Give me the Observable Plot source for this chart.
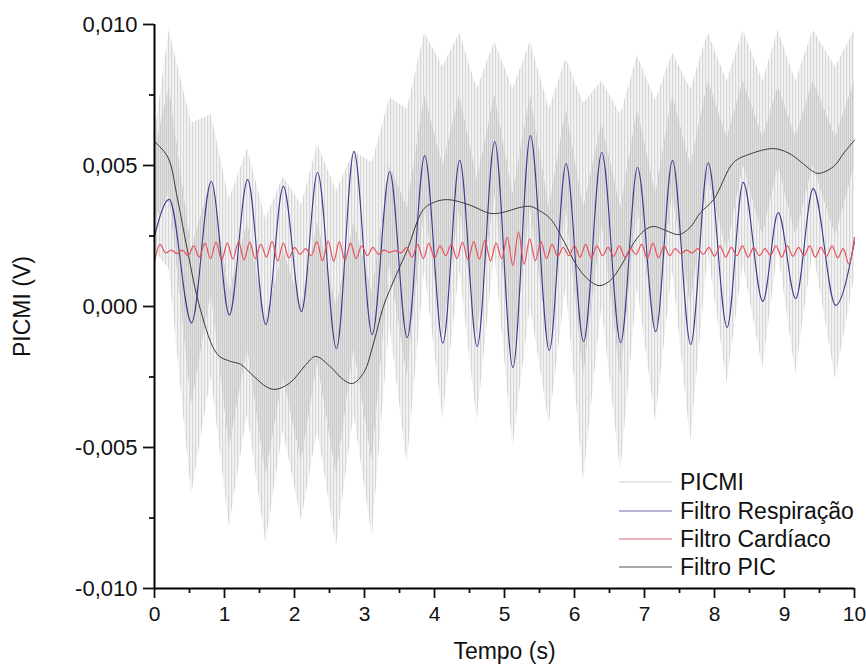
<!DOCTYPE html>
<html>
<head>
<meta charset="utf-8">
<script src="https://cdn.jsdelivr.net/npm/d3@7"></script>
<script src="https://cdn.jsdelivr.net/npm/@observablehq/plot@0.6"></script>
<style>
  html, body { margin: 0; padding: 0; background: #fff; }
  #wrap { position: relative; width: 866px; height: 672px; font-family: "Liberation Sans", Arial, sans-serif; }
  #legend { position: absolute; left: 0; top: 0; width: 866px; height: 672px; pointer-events: none; }
</style>
</head>
<body>
<div id="wrap"></div>
<script>
// ---- Data (values in mV; axis shows volts) ----
const xTicks = [0, 1, 2, 3, 4, 5, 6, 7, 8, 9, 10];
const xMinor = [0.5, 1.5, 2.5, 3.5, 4.5, 5.5, 6.5, 7.5, 8.5, 9.5];
const yTicks = [-10, -5, 0, 5, 10];
const yMinor = [-7.5, -2.5, 2.5, 7.5];

const seriesNames = ["PICMI", "Filtro Respiração", "Filtro Cardíaco", "Filtro PIC"];

// Filtro Respiração: extrema
const respT = [0, 0.21, 0.53, 0.81, 1.07, 1.33, 1.59, 1.84, 2.10, 2.33, 2.60, 2.85, 3.11, 3.36, 3.61, 3.86, 4.12, 4.36, 4.61, 4.86,
               5.12, 5.37, 5.64, 5.88, 6.13, 6.39, 6.66, 6.90, 7.16, 7.40, 7.66, 7.91, 8.18, 8.41, 8.69, 8.91, 9.16, 9.41, 9.73, 10];
const respV = [2.5, 3.8, -0.58, 4.43, -0.30, 4.50, -0.64, 4.26, -0.18, 4.75, -1.50, 5.50, -1.00, 4.78, -1.10, 5.35, -1.30, 5.18, -1.42, 5.85,
               -2.16, 6.06, -1.56, 5.07, -1.24, 5.46, -1.28, 4.93, -0.89, 5.18, -1.35, 5.10, -0.74, 4.40, 0.18, 3.33, 0.28, 4.18, 0.04, 2.3];

// Filtro PIC
const picT = [0, 0.19, 0.33, 0.47, 0.66, 0.90, 1.09, 1.23, 1.42, 1.60, 1.73, 1.94, 2.15, 2.30, 2.51, 2.70, 2.83, 2.99, 3.13, 3.27,
              3.45, 3.61, 3.84, 4.00, 4.19, 4.50, 4.80, 5.00, 5.20, 5.37, 5.50, 5.66, 5.85, 6.04, 6.20, 6.35, 6.50, 6.66, 6.85, 7.00,
              7.13, 7.30, 7.49, 7.65, 7.80, 7.99, 8.27, 8.50, 8.84, 9.05, 9.23, 9.40, 9.49, 9.70, 9.85, 10];
const picV = [5.85, 5.3, 3.8, 2.0, -0.15, -1.7, -1.95, -2.05, -2.48, -2.85, -2.94, -2.7, -2.1, -1.77, -2.13, -2.6, -2.73, -2.34, -1.3, 0.0,
              1.1, 2.0, 3.44, 3.7, 3.79, 3.6, 3.3, 3.35, 3.5, 3.55, 3.4, 3.1, 2.3, 1.42, 0.95, 0.74, 0.9, 1.42, 2.27, 2.7,
              2.84, 2.7, 2.55, 2.8, 3.33, 3.8, 5.1, 5.4, 5.6, 5.45, 5.14, 4.8, 4.72, 4.96, 5.45, 5.9];

// Filtro Cardíaco: samples every 0.08 s
const cardV = [1.60, 2.20, 1.90, 2.00, 1.88, 2.00, 1.80, 2.15, 1.75, 2.25, 1.70, 2.28, 1.65, 2.25, 1.68, 2.30, 1.65, 2.28, 1.70, 2.20,
               1.75, 2.30, 1.62, 2.25, 1.72, 2.10, 1.85, 2.05, 1.80, 2.30, 1.62, 2.32, 1.60, 2.30, 1.65, 2.25, 1.70, 2.15, 1.80, 2.10,
               1.85, 2.00, 1.92, 1.98, 1.90, 2.10, 1.75, 2.20, 1.70, 2.25, 1.72, 2.15, 1.80, 2.20, 1.70, 2.28, 1.65, 2.30, 1.68, 2.35,
               1.62, 2.25, 1.70, 2.45, 1.45, 2.65, 1.50, 2.40, 1.62, 2.30, 1.70, 2.20, 1.78, 2.10, 1.80, 2.15, 1.75, 2.20, 1.72, 2.15,
               1.80, 2.10, 1.78, 2.15, 1.75, 2.05, 1.85, 2.20, 1.70, 2.25, 1.72, 2.15, 1.80, 2.05, 1.88, 2.00, 1.90, 2.05, 1.85, 2.10,
               1.78, 2.15, 1.75, 2.10, 1.80, 2.15, 1.75, 2.10, 1.80, 2.05, 1.82, 2.15, 1.75, 2.15, 1.78, 2.10, 1.80, 2.15, 1.75, 2.10,
               1.78, 2.15, 1.72, 2.05, 1.50, 2.45];
const cardT = cardV.map((_, i) => i * 0.08);

// PICMI raw signal: envelope of the spikes (top/bottom) and the denser core band
const grayT   = [0, 0.21, 0.53, 0.81, 1.07, 1.33, 1.59, 1.84, 2.10, 2.33, 2.60, 2.85, 3.11, 3.36, 3.61, 3.86, 4.12, 4.36, 4.61, 4.86,
                 5.12, 5.37, 5.64, 5.88, 6.13, 6.39, 6.66, 6.90, 7.16, 7.40, 7.66, 7.91, 8.18, 8.41, 8.69, 8.91, 9.16, 9.41, 9.73, 10];
const grayTop = [6.0, 9.8, 6.5, 6.8, 3.8, 5.6, 3.1, 4.6, 3.6, 5.75, 4.1, 5.5, 5.1, 7.4, 7.0, 9.7, 8.5, 9.7, 7.7, 9.4,
                 7.7, 9.4, 7.0, 8.8, 7.2, 8.0, 6.8, 8.9, 7.3, 9.0, 7.7, 9.7, 8.0, 9.8, 8.0, 9.8, 8.0, 9.8, 8.5, 9.8];
const grayBot = [2.0, 1.3, -6.7, -2.5, -7.8, -3.8, -8.4, -4.4, -7.6, -4.4, -8.5, -3.8, -8.2, -0.6, -5.6, 1.3, -4.0, 1.3, -4.1, 1.95,
                 -5.0, 0.0, -4.2, 0.7, -6.2, 0.0, -5.9, 0.7, -4.1, 1.3, -4.8, 1.9, -2.7, 1.5, -2.2, 2.0, -2.4, 2.0, -2.6, 1.0];
const coreHi  = [5.5, 7.8, 2.0, 4.5, 0.5, 3.0, -0.5, 2.0, 0.0, 3.0, 0.0, 3.0, 0.5, 5.0, 3.5, 7.5, 5.0, 7.5, 4.5, 7.5,
                 4.0, 7.5, 3.5, 7.0, 3.5, 6.5, 3.5, 7.0, 4.0, 7.5, 5.0, 8.0, 6.0, 8.0, 6.0, 7.8, 6.0, 8.0, 6.0, 8.0];
const coreLo  = [3.0, 4.0, -3.5, 0.5, -5.0, -1.5, -6.0, -2.5, -5.5, -2.0, -6.0, -1.5, -5.5, 1.5, -2.5, 3.5, -1.0, 3.5, -1.0, 4.0,
                 -2.0, 3.5, -1.5, 3.5, -2.5, 3.0, -2.5, 3.5, -1.0, 4.0, 0.0, 4.5, 2.0, 5.0, 2.5, 5.0, 2.5, 5.0, 2.5, 5.0];

const colors = {resp: "#3b3b90", card: "#e8505c", pic: "#3a3a3a"};

const fmtY = d => (d / 1000).toFixed(3).replace(".", ",");

const chart = Plot.plot({
  width: 866,
  height: 672,
  marginLeft: 154,
  marginRight: 12,
  marginTop: 24,
  marginBottom: 84,
  style: {fontFamily: "'Liberation Sans', Arial, sans-serif", fontSize: "22px", background: "#fff", color: "#111"},
  x: {domain: [0, 10]},
  y: {domain: [-10, 10]},
  marks: [
    Plot.areaY(grayT, {x: grayT, y1: grayBot, y2: grayTop, fill: "url(#picmiLight)", curve: "linear"}),
    Plot.areaY(grayT, {x: grayT, y1: coreLo, y2: coreHi, fill: "url(#picmiCore)", curve: "linear"}),
    Plot.line(picT, {x: picT, y: picV, stroke: colors.pic, strokeWidth: 1, curve: "catmull-rom"}),
    Plot.line(respT, {x: respT, y: respV, stroke: colors.resp, strokeWidth: 1.1, curve: "monotone-x"}),
    Plot.line(cardT, {x: cardT, y: cardV, stroke: colors.card, strokeWidth: 1.2, curve: "monotone-x"}),
    Plot.axisY({ticks: yTicks, tickSize: 11, tickPadding: 6, tickFormat: fmtY, label: null, strokeWidth: 1.8, fontSize: 22}),
    Plot.axisY({ticks: yMinor, tickSize: 5, tickFormat: () => "", label: null, strokeWidth: 1.8}),
    Plot.axisX({ticks: xTicks, tickSize: 10, tickPadding: 8, tickFormat: d => String(d), label: null, strokeWidth: 1.8, fontSize: 21}),
    Plot.axisX({ticks: xMinor, tickSize: 5, tickFormat: () => "", label: null, strokeWidth: 1.8}),
    Plot.ruleX([0], {stroke: "#000", strokeWidth: 2}),
    Plot.ruleY([-10], {stroke: "#000", strokeWidth: 2}),
    Plot.text(["Tempo (s)"], {frameAnchor: "bottom", dy: 70, fontSize: 23, fill: "#111", textAnchor: "middle"}),
    Plot.text(["PICMI (V)"], {frameAnchor: "left", dx: -132, rotate: -90, fontSize: 23, fill: "#111", textAnchor: "middle"})
  ]
});

// Stripe patterns giving the raw signal its spiky look
const ns = "http://www.w3.org/2000/svg";
const defs = document.createElementNS(ns, "defs");
function stripe(id, w, bg, fg, sw) {
  const p = document.createElementNS(ns, "pattern");
  p.setAttribute("id", id);
  p.setAttribute("patternUnits", "userSpaceOnUse");
  p.setAttribute("width", w);
  p.setAttribute("height", 20);
  const r = document.createElementNS(ns, "rect");
  r.setAttribute("width", w); r.setAttribute("height", 20); r.setAttribute("fill", bg);
  p.appendChild(r);
  const l = document.createElementNS(ns, "rect");
  l.setAttribute("x", 0); l.setAttribute("width", sw); l.setAttribute("height", 20); l.setAttribute("fill", fg);
  p.appendChild(l);
  defs.appendChild(p);
}
stripe("picmiLight", 3, "#f4f4f4", "#d6d6d6", 1.2);
stripe("picmiCore", 2, "#e0e0e0", "#cbcbcb", 1);
chart.insertBefore(defs, chart.firstChild);

const wrap = document.getElementById("wrap");
wrap.appendChild(chart);

// Legend overlay
const legendColors = ["#cfcfcf", "#6a6aa8", "#e06a78", "#555"];
const lg = document.createElementNS(ns, "svg");
lg.setAttribute("id", "legend");
lg.setAttribute("width", 866);
lg.setAttribute("height", 672);
const rowY = [482, 511, 539, 567];
seriesNames.forEach((name, i) => {
  const ln = document.createElementNS(ns, "line");
  ln.setAttribute("x1", 619); ln.setAttribute("x2", 672);
  ln.setAttribute("y1", rowY[i]); ln.setAttribute("y2", rowY[i]);
  ln.setAttribute("stroke", legendColors[i]); ln.setAttribute("stroke-width", 1.2);
  lg.appendChild(ln);
  const tx = document.createElementNS(ns, "text");
  tx.setAttribute("x", 680); tx.setAttribute("y", rowY[i]);
  tx.setAttribute("dy", "0.36em");
  tx.setAttribute("font-size", "23px");
  tx.setAttribute("font-family", "'Liberation Sans', Arial, sans-serif");
  tx.setAttribute("fill", "#111");
  tx.textContent = name;
  lg.appendChild(tx);
});
wrap.appendChild(lg);
</script>
</body>
</html>
